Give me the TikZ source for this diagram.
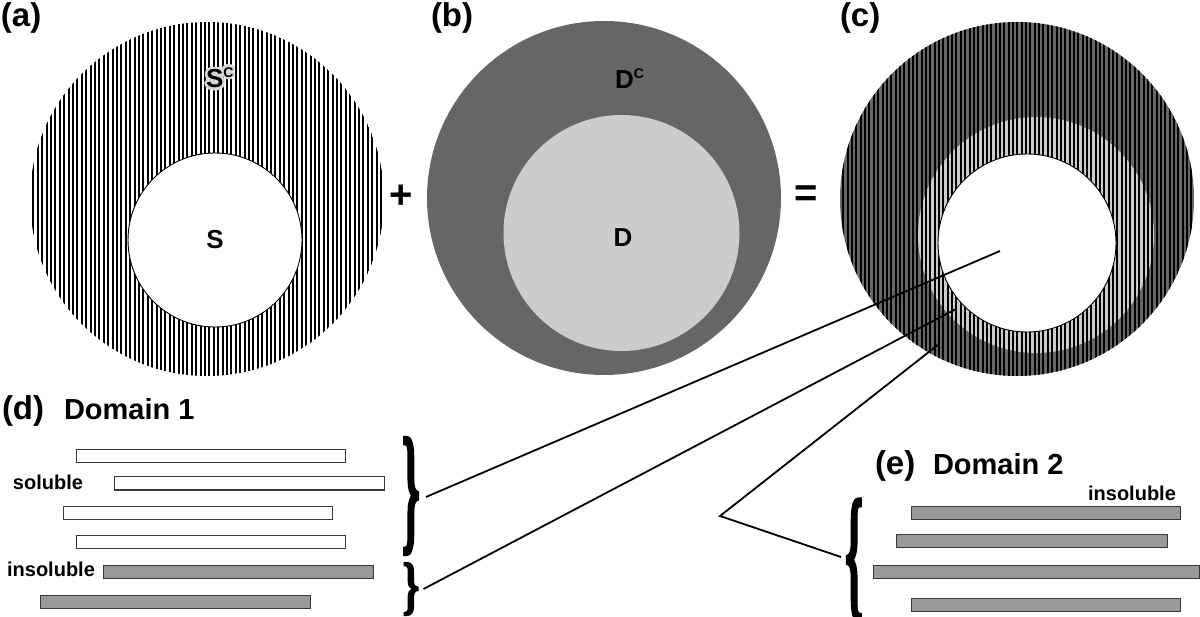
\documentclass[tikz,border=0pt]{standalone}
\usepackage{fontspec}
\setmainfont{Liberation Sans}
\newfontfamily\serifbr[FakeBold=2.5]{Liberation Serif}
\usepackage{graphicx}
\definecolor{dg}{HTML}{666666}
\definecolor{lg}{HTML}{CCCCCC}
\definecolor{barg}{HTML}{999999}
\definecolor{bord}{HTML}{383838}
\definecolor{halo}{HTML}{D6D6D6}
\newcommand{\fsz}[1]{\fontsize{#1}{#1}\selectfont\bfseries}
\newcommand{\supC}{\raisebox{0.42em}{\fsz{14}C}}
\tikzset{
  lbl/.style={inner sep=0pt, outer sep=0pt},
  bar/.style={draw=bord, line width=1pt, inner sep=0pt, outer sep=0pt, minimum height=13pt, anchor=north west},
  solbar/.style={bar, fill=white},
  insbar/.style={bar, fill=barg},
  conn/.style={line width=1.8pt, black},
  hatch/.style={line width=2.1pt, black}
}
\begin{document}
\begin{tikzpicture}[x=1pt,y=-1pt]
\useasboundingbox[fill=white] (0,0) rectangle (1200,617);

% ---- (a) ----
\begin{scope}
  \clip (207,199) circle[radius=177pt];
  \foreach \i in {0,...,82} \draw[hatch] ({29+\i*4.4},18) -- ({29+\i*4.4},380);
\end{scope}
\fill[white] (215,240) circle[radius=87pt];
\draw[line width=0.9pt] (215,240) circle[radius=87pt];

% ---- (b) ----
\fill[dg] (604,198) circle[radius=177pt];
\fill[lg] (621.5,233) circle[radius=118pt];

% ---- (c) ----
\fill[dg] (1017,199) circle[radius=177pt];
\fill[lg] (1036,235) circle[radius=118pt];
\begin{scope}
  \clip (1017,199) circle[radius=177pt];
  \foreach \i in {0,...,82} \draw[hatch, line width=2pt] ({839+\i*4.35},18) -- ({839+\i*4.35},380);
\end{scope}
\fill[white] (1027,243) circle[radius=89pt];
\draw[line width=0.9pt] (1027,243) circle[radius=89pt];

% ---- panel labels ----
\node[lbl, anchor=base west] (la) at (1,27) {\fsz{33}(a)};
\node[lbl, anchor=base west] (lb) at (431,27) {\fsz{33}(b)};
\node[lbl, anchor=base west] (lc) at (840,27) {\fsz{33}(c)};
\node[lbl, anchor=base west] (ld) at (2,420) {\fsz{33}(d)};
\node[lbl, anchor=base west] (ldt) at (64,420) {\fsz{29}Domain 1};
\node[lbl, anchor=base west] (le) at (875,475) {\fsz{33}(e)};
\node[lbl, anchor=base west] (let) at (933,475) {\fsz{29}Domain 2};

% ---- region labels ----
\foreach \a in {0,30,...,330}
  \node[lbl, anchor=base west, text=halo] at ([shift={(\a:2.6pt)}]206,88) {\fsz{26}S\supC};
\node[lbl, anchor=base west] (sc) at (206,88) {\fsz{26}S\supC};
\node[lbl] (s) at (215,240) {\fsz{26}S};
\node[lbl, anchor=base west] (dc) at (615,89) {\fsz{26}D\supC};
\node[lbl] (d) at (623,238) {\fsz{26}D};
\node[lbl] (plus) at (401,197) {\fsz{40}+};
\node[lbl] (eq) at (806,196) {\fsz{40}=};

% ---- Domain 1 bars ----
\node[solbar, minimum width=269pt] (d1) at (76,450) {};
\node[solbar, minimum width=270pt] (d2) at (114,477) {};
\node[solbar, minimum width=269pt] (d3) at (63,506) {};
\node[solbar, minimum width=269pt] (d4) at (76,535) {};
\node[insbar, minimum width=270pt] (d5) at (103,565) {};
\node[insbar, minimum width=270pt] (d6) at (40,595) {};
\node[lbl] (sol) at (48,482) {\fsz{20}soluble};
\node[lbl] (ins1) at (51,569) {\fsz{20}insoluble};

% ---- Domain 2 bars ----
\node[insbar, minimum width=269pt] (e1) at (911,506) {};
\node[insbar, minimum width=271pt] (e2) at (896,534) {};
\node[insbar, minimum width=326pt] (e3) at (873,565) {};
\node[insbar, minimum width=269pt] (e4) at (911,598) {};
\node[lbl] (ins2) at (1132,493) {\fsz{20}insoluble};

% ---- braces ----
\node[lbl] (br1) at (411,496) {\resizebox{18pt}{98pt}{\serifbr\bfseries\}}};
\node[lbl] (br2) at (411,589) {\resizebox{17pt}{44pt}{\serifbr\bfseries\}}};
\node[lbl] (br3) at (854,560) {\resizebox{18pt}{102pt}{\serifbr\bfseries\{}};

% ---- connectors ----
\coordinate (p1) at (1000,251);
\coordinate (p2) at (956,309);
\coordinate (p3) at (939,344);
\coordinate (v) at (720,516);
\draw[conn] ([xshift=6pt,yshift=-1pt]br1.east) -- (p1);
\draw[conn] ([xshift=4pt]br2.east) -- (p2);
\draw[conn] ([xshift=-4pt,yshift=3pt]br3.west) -- (v) -- (p3);
\end{tikzpicture}
\end{document}
